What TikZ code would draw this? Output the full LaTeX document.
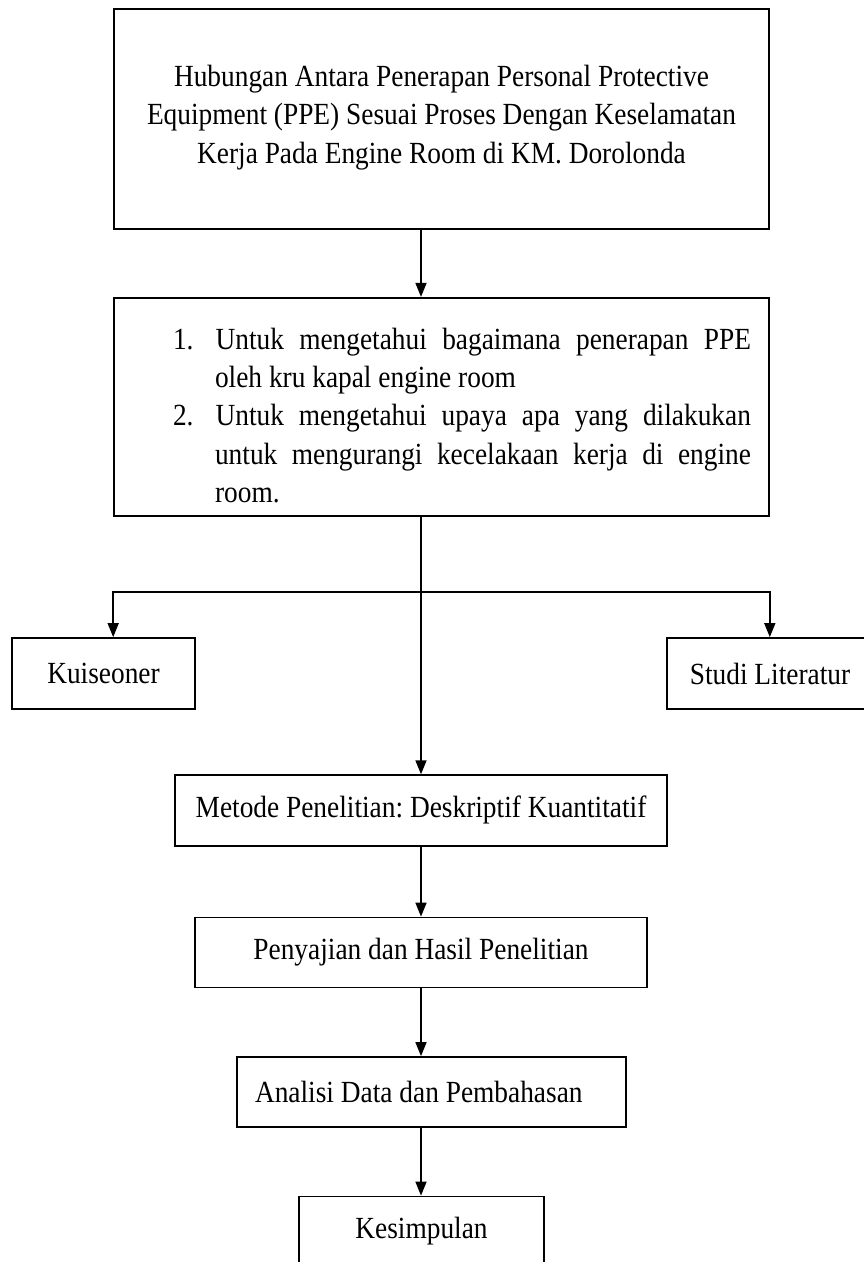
\documentclass[tikz,border=0pt]{standalone}
\usepackage{fontspec}
\setmainfont{Liberation Serif}[FakeStretch=0.89]
\usepackage{enumitem}
\usetikzlibrary{arrows.meta}
\frenchspacing

\begin{document}
\begin{tikzpicture}[
    % Satu satuan = satu piksel gambar acuan
    x=0.02cm, y=-0.02cm,
    % Kotak bergaris hitam
    kotak/.style={
        draw, line width=1pt, inner sep=0pt, align=center,
        font=\fontsize{17.5}{21.8}\selectfont
    },
    % Panah dengan ujung segitiga penuh
    panah/.style={line width=0.9pt, -{Triangle[width=2.2mm,length=2.8mm]}}
]

    % Batas gambar
    \useasboundingbox (0,0) rectangle (863,1262);

    % Kotak judul
    \node[kotak, minimum width=13.1cm, minimum height=4.4cm] (judul) at (441.5,119)
        {Hubungan Antara Penerapan Personal Protective\\
         Equipment (PPE) Sesuai Proses Dengan Keselamatan\\
         Kerja Pada Engine Room di KM. Dorolonda\\[-0.57cm]};

    % Kotak tujuan penelitian
    \node[kotak, minimum width=13.1cm, minimum height=4.37cm, text width=12.38cm, align=justify] (tujuan) at (441.5,407)
        {\hyphenpenalty=10000 \tolerance=10000
         \begin{enumerate}[nosep, label=\arabic*., leftmargin=1.66cm, labelindent=0.82cm,
                           labelwidth=0.4cm, labelsep=!, align=left]
         \item Untuk mengetahui bagaimana penerapan PPE oleh kru kapal engine room
         \item Untuk mengetahui upaya apa yang dilakukan untuk mengurangi kecelakaan kerja di engine room.
         \end{enumerate}};

    % Kotak cabang kiri dan kanan
    \node[kotak, minimum width=3.66cm, minimum height=1.42cm] (kuis) at (103.5,673.5) {Kuiseoner};
    \node[kotak, minimum width=4.12cm, minimum height=1.42cm] (studi) at (770,673.5) {Studi Literatur};

    % Kotak alur utama
    \node[kotak, minimum width=9.84cm, minimum height=1.41cm] (metode) at (421,810.4) {Metode Penelitian: Deskriptif Kuantitatif};
    \node[kotak, minimum width=9.04cm, minimum height=1.40cm] (sajian) at (421,952.5) {Penyajian dan Hasil Penelitian};
    \node[kotak, minimum width=7.78cm, minimum height=1.40cm, text width=7.06cm, align=justify] (analisis) at (431.5,1092) {Analisi Data dan Pembahasan};
    \node[kotak, minimum width=4.9cm, minimum height=1.40cm] (simpulan) at (421.5,1231.5) {Kesimpulan};

    % Garis tengah dan titik percabangan
    \coordinate (tulang) at (421,0);
    \coordinate (cabang) at (421,592);

    % Panah-panah
    \draw[panah] (judul.south -| tulang) -- (tujuan.north -| tulang);
    \draw[panah] (tujuan.south -| tulang) -- (metode.north -| tulang);
    \draw[panah] (cabang) -| (kuis.north -| judul.west);
    \draw[panah] (cabang) -| (studi.north -| judul.east);
    \draw[panah] (metode.south -| tulang) -- (sajian.north -| tulang);
    \draw[panah] (sajian.south -| tulang) -- (analisis.north -| tulang);
    \draw[panah] (analisis.south -| tulang) -- (simpulan.north -| tulang);
\end{tikzpicture}
\end{document}
